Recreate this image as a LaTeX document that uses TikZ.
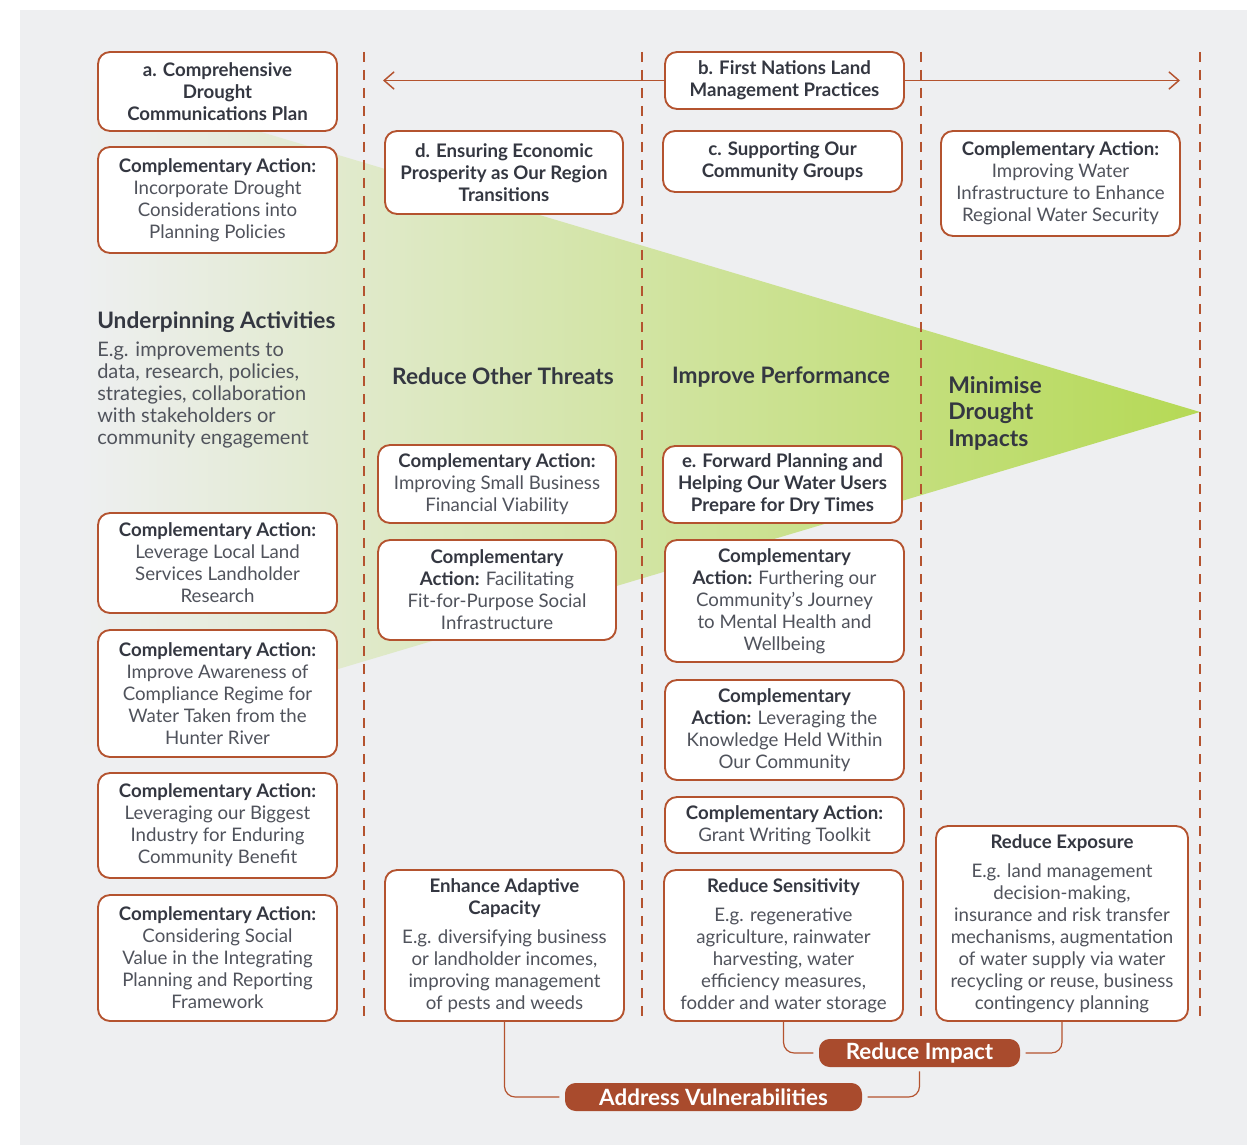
\documentclass[tikz,border=0pt]{standalone}
\usepackage{fontspec}
\setmainfont{Lato}
\usetikzlibrary{arrows.meta}
\definecolor{rust}{HTML}{B4532F}
\definecolor{pillc}{HTML}{A94B2D}
\definecolor{bgc}{HTML}{EEEFF1}
\definecolor{limec}{HTML}{B5D955}
\definecolor{ink}{HTML}{343741}
\definecolor{bodygray}{HTML}{50535C}
\newcommand\boxfont{\fontsize{14pt}{16.5pt}\selectfont}
\newcommand\bd[1]{{\color{bodygray}#1}}
\begin{document}
\begin{tikzpicture}[x=0.75pt,y=-0.75pt,
  box/.style={draw=rust,line width=1.4pt,fill=white,rounded corners=9pt,
    align=center,text=ink,font=\boxfont\bfseries,inner sep=0pt},
  sz/.style 2 args={minimum width=#1*0.75pt,minimum height=#2*0.75pt},
  pillbox/.style={fill=pillc,rounded corners=8pt,text=white,
    font=\fontsize{16.8pt}{19pt}\selectfont\bfseries,inner sep=0pt},
  conn/.style={draw=rust,line width=0.9pt,rounded corners=8pt},
  divider/.style={draw=rust,line width=1.4pt,dash pattern=on 7.5pt off 6pt},
  arr/.style={draw=rust,line width=1.1pt,-{Straight Barb[length=7.5pt,width=13pt]}},
  heading/.style={text=ink,font=\fontsize{17pt}{20pt}\selectfont\bfseries,inner sep=0pt}
]
\useasboundingbox (0,0) rectangle (1247,1145);
\fill[bgc] (20,10) rectangle (1247,1145);
% green wedge
\shade[left color=bgc,right color=limec] (80,78) -- (1200,412) -- (80,746) -- cycle;
% dividers
\draw[divider] (364,52) -- (364,1022);
\draw[divider] (642,52) -- (642,1022);
\draw[divider] (921,52) -- (921,1022);
\draw[divider] (1200,52) -- (1200,1022);

% left column
\node[box,sz={239}{79}] (a) at (217.5,91.5) {a. Comprehensive\\Drought\\Communications Plan};
\node[box,sz={239}{106}] (ca1) at (217.5,200) {Complementary Action:\\\mdseries\bd{Incorporate Drought}\\\mdseries\bd{Considerations into}\\\mdseries\bd{Planning Policies}};
\node[heading,anchor=west,font=\fontsize{17pt}{20pt}\selectfont\bfseries] (ua) at (97,322) {Underpinning Activities};
\node[anchor=north west,align=left,inner sep=0pt,text=bodygray,font=\fontsize{15pt}{16.5pt}\selectfont] (ub) at (97,342) {E.g. improvements to\\data, research, policies,\\strategies, collaboration\\with stakeholders or\\community engagement};
\node[box,sz={239}{100}] (ca2) at (217.5,563) {Complementary Action:\\\mdseries\bd{Leverage Local Land}\\\mdseries\bd{Services Landholder}\\\mdseries\bd{Research}};
\node[box,sz={239}{127}] (ca3) at (217.5,693.5) {Complementary Action:\\\mdseries\bd{Improve Awareness of}\\\mdseries\bd{Compliance Regime for}\\\mdseries\bd{Water Taken from the}\\\mdseries\bd{Hunter River}};
\node[box,sz={239}{105}] (ca4) at (217.5,825.5) {Complementary Action:\\\mdseries\bd{Leveraging our Biggest}\\\mdseries\bd{Industry for Enduring}\\\mdseries\bd{Community Benefit}};
\node[box,sz={239}{126}] (ca5) at (217.5,958) {Complementary Action:\\\mdseries\bd{Considering Social}\\\mdseries\bd{Value in the Integrating}\\\mdseries\bd{Planning and Reporting}\\\mdseries\bd{Framework}};

% second column
\node[box,sz={238}{83}] (d) at (504,172.5) {d. Ensuring Economic\\Prosperity as Our Region\\Transitions};
\node[heading] (rot) at (503,376) {Reduce Other Threats};
\node[box,sz={238}{78}] (ca6) at (497,484) {Complementary Action:\\\mdseries\bd{Improving Small Business}\\\mdseries\bd{Financial Viability}};
\node[box,sz={238}{100}] (ca7) at (497,590) {Complementary\\Action: \mdseries\bd{Facilitating}\\\mdseries\bd{Fit-for-Purpose Social}\\\mdseries\bd{Infrastructure}};
\node[box,sz={239}{151}] (enh) at (504.5,945.5) {Enhance Adaptive\\Capacity\\[5pt]\mdseries\bd{E.g. diversifying business}\\\mdseries\bd{or landholder incomes,}\\\mdseries\bd{improving management}\\\mdseries\bd{of pests and weeds}};

% third column
\node[box,sz={239}{57}] (b) at (784.5,80.5) {b. First Nations Land\\Management Practices};
\node[box,sz={239}{61}] (c) at (782.5,161.5) {c. Supporting Our\\Community Groups};
\node[heading] (ip) at (781,377) {Improve Performance};
\node[box,sz={239}{77}] (e) at (782.5,484.5) {e. Forward Planning and\\Helping Our Water Users\\Prepare for Dry Times};
\node[box,sz={239}{122}] (ca8) at (784.5,601) {Complementary\\Action: \mdseries\bd{Furthering our}\\\mdseries\bd{Community's Journey}\\\mdseries\bd{to Mental Health and}\\\mdseries\bd{Wellbeing}};
\node[box,sz={239}{100}] (ca9) at (784.5,730) {Complementary\\Action: \mdseries\bd{Leveraging the}\\\mdseries\bd{Knowledge Held Within}\\\mdseries\bd{Our Community}};
\node[box,sz={239}{56}] (ca10) at (784.5,825) {Complementary Action:\\\mdseries\bd{Grant Writing Toolkit}};
\node[box,sz={239}{151}] (rs) at (783.5,945.5) {Reduce Sensitivity\\[5pt]\mdseries\bd{E.g. regenerative}\\\mdseries\bd{agriculture, rainwater}\\\mdseries\bd{harvesting, water}\\\mdseries\bd{efficiency measures,}\\\mdseries\bd{fodder and water storage}};

% fourth column
\node[box,sz={239}{105}] (ca11) at (1060.5,183.5) {Complementary Action:\\\mdseries\bd{Improving Water}\\\mdseries\bd{Infrastructure to Enhance}\\\mdseries\bd{Regional Water Security}};
\node[heading,anchor=north west,align=left,font=\fontsize{17.2pt}{20pt}\selectfont\bfseries] (mdi) at (948,376) {Minimise\\Drought\\Impacts};
\node[box,sz={252}{195}] (rexp) at (1062,923.5) {Reduce Exposure\\[5pt]\mdseries\bd{E.g. land management}\\\mdseries\bd{decision-making,}\\\mdseries\bd{insurance and risk transfer}\\\mdseries\bd{mechanisms, augmentation}\\\mdseries\bd{of water supply via water}\\\mdseries\bd{recycling or reuse, business}\\\mdseries\bd{contingency planning}};

% arrows from b
\coordinate (arL) at (383,80.5);
\coordinate (arR) at (1180,80.5);
\draw[arr] (b.west) -- (arL);
\draw[arr] (b.east) -- (arR);

% pills
\node[pillbox,sz={201}{28}] (ri) at (919.5,1053) {Reduce Impact};
\node[pillbox,sz={297}{28}] (av) at (713.5,1097) {Address Vulnerabilities};

% connectors
\draw[conn,shorten >=4pt] (rs.south) |- (ri.west);
\draw[conn,shorten >=4pt] (rexp.south) |- (ri.east);
\draw[conn,shorten <=3pt,shorten >=4pt] (ri.south) |- (av.east);
\draw[conn,shorten >=4pt] (enh.south) |- (av.west);
\end{tikzpicture}
\end{document}
